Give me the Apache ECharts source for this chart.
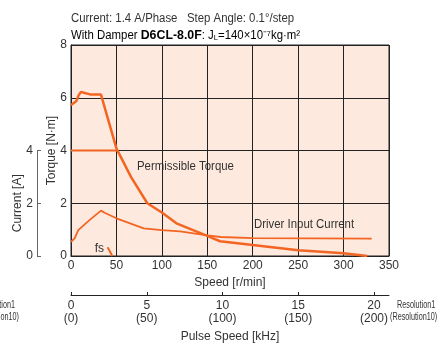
<!DOCTYPE html>
<html><head><meta charset="utf-8">
<script src="https://cdn.jsdelivr.net/npm/echarts@6/dist/echarts.min.js"></script>
<style>html,body{margin:0;padding:0;background:#fff}#c{width:444px;height:344px}#e{position:absolute;left:0;top:0;font:9px monospace;color:red;white-space:pre-wrap;width:444px}</style>
</head><body><div id="c"></div><div id="e"></div>
<script>
// ---- data ----
const speedTicks = [0, 50, 100, 150, 200, 250, 300, 350];
const torqueTicks = [0, 2, 4, 6, 8];
const currentTicks = [0, 2, 4];
const pulseTicks = [0, 5, 10, 15, 20];           // kHz (Resolution1)
// pull-out torque [speed r/min, torque N·m]
const torqueSpeed = [0, 6, 8, 8.5, 11, 22, 33, 50, 66, 84, 100, 116, 150, 164, 200, 250, 300, 326];
const torqueVal   = [5.72, 5.88, 5.9, 6.1, 6.22, 6.12, 6.12, 4.08, 3.0, 2.0, 1.65, 1.24, 0.76, 0.56, 0.42, 0.22, 0.1, 0];
// permissible torque
const permSpeed = [0, 51];
const permVal   = [4, 4];
// driver input current [A]
const currSpeed = [0, 4, 8, 20, 33, 37, 50, 80, 100, 120, 150, 165, 200, 331];
const currVal   = [0.54, 0.67, 0.98, 1.35, 1.72, 1.64, 1.43, 1.05, 0.98, 0.93, 0.78, 0.72, 0.68, 0.66];
// fs
const fsSpeed = [40.3, 45.5];
const fsVal   = [0.33, 0];

const zip = (a, b) => a.map((v, i) => [v, b[i]]);
const FONT = "'Liberation Sans',sans-serif";
const TXT = '#333';
const OR = '#f26522';
const txt = (x, y, text, size, align, sx) => ({type: 'text', x: x, y: y, scaleX: sx || 1,
  style: {text: text, font: size + 'px ' + FONT, fill: TXT, textAlign: align || 'left', textVerticalAlign: 'middle'}});

try {
const chart = echarts.init(document.getElementById('c'), null, {renderer: 'canvas'});
chart.setOption({
  animation: false,
  textStyle: {fontFamily: FONT, color: TXT},
  grid: [
    {left: 71, top: 45, width: 318, height: 211, show: true, backgroundColor: '#fde9de', borderColor: '#222', borderWidth: 1},
    {left: 37, top: 150.5, width: 10, height: 105.5, show: false},
    {left: 71, top: 286, width: 318, height: 10, show: false},
    {left: 71, top: 286, width: 303, height: 10, show: false}
  ],
  xAxis: [
    {gridIndex: 0, type: 'value', min: 0, max: 350, interval: 50,
     axisLine: {show: true, lineStyle: {color: '#222'}}, axisTick: {show: false},
     splitLine: {show: true, lineStyle: {color: '#222', width: 1}},
     axisLabel: {fontSize: 12, color: TXT, margin: 4, fontFamily: FONT},
     name: 'Speed [r/min]', nameLocation: 'middle', nameGap: 21, nameMoveOverlap: false,
     nameTextStyle: {fontSize: 12, color: TXT, fontFamily: FONT}},
    {gridIndex: 1, type: 'value', min: 0, max: 1, show: false},
    {gridIndex: 2, type: 'value', min: 0, max: 21, position: 'bottom',
     axisLine: {show: true, lineStyle: {color: '#222'}},
     axisTick: {show: false}, axisLabel: {show: false}, splitLine: {show: false},
     name: 'Pulse Speed [kHz]', nameLocation: 'middle', nameGap: 36, nameMoveOverlap: false,
     nameTextStyle: {fontSize: 12, color: TXT, fontFamily: FONT}},
    {gridIndex: 3, type: 'value', min: 0, max: 20, interval: 5, position: 'bottom',
     axisLine: {show: false},
     axisTick: {show: true, inside: true, length: 4, lineStyle: {color: '#222'}},
     splitLine: {show: false},
     axisLabel: {fontSize: 12, color: TXT, margin: 3, fontFamily: FONT, lineHeight: 13,
       formatter: v => v + '\n(' + (v * 10) + ')'}}
  ],
  yAxis: [
    {gridIndex: 0, type: 'value', min: 0, max: 8, interval: 2,
     axisLine: {show: true, lineStyle: {color: '#222'}}, axisTick: {show: false},
     splitLine: {show: true, lineStyle: {color: '#222', width: 1}},
     axisLabel: {fontSize: 12, color: TXT, margin: 4, fontFamily: FONT},
     name: 'Torque [N·m]', nameLocation: 'middle', nameGap: 13, nameRotate: 90, nameMoveOverlap: false,
     nameTextStyle: {fontSize: 12, color: TXT, fontFamily: FONT}},
    {gridIndex: 1, type: 'value', min: 0, max: 4, interval: 2,
     axisLine: {show: true, lineStyle: {color: '#666'}},
     axisTick: {show: true, inside: true, length: 4, lineStyle: {color: '#666'}},
     splitLine: {show: false},
     axisLabel: {fontSize: 12, color: TXT, margin: 4, fontFamily: FONT},
     name: 'Current [A]', nameLocation: 'middle', nameGap: 13, nameRotate: 90, nameMoveOverlap: false,
     nameTextStyle: {fontSize: 12, color: TXT, fontFamily: FONT}},
    {gridIndex: 2, type: 'value', min: 0, max: 1, show: false},
    {gridIndex: 3, type: 'value', min: 0, max: 1, show: false}
  ],
  series: [
    {type: 'line', xAxisIndex: 0, yAxisIndex: 0, data: zip(torqueSpeed, torqueVal), symbol: 'none',
     lineStyle: {color: OR, width: 2.5}},
    {type: 'line', xAxisIndex: 0, yAxisIndex: 0, data: zip(permSpeed, permVal), symbol: 'none',
     lineStyle: {color: OR, width: 2}},
    {type: 'line', xAxisIndex: 0, yAxisIndex: 0, data: zip(currSpeed, currVal), symbol: 'none',
     lineStyle: {color: OR, width: 1.8}},
    {type: 'line', xAxisIndex: 0, yAxisIndex: 0, data: zip(fsSpeed, fsVal), symbol: 'none',
     lineStyle: {color: OR, width: 2}}
  ],
  graphic: [
    txt(71, 19, 'Current: 1.4 A/Phase   Step Angle: 0.1°/step', 12, 'left', 0.95),
    {type: 'text', x: 71, y: 34, scaleX: 0.95, style: {
      text: '{n|With Damper }{b|D6CL-8.0F}{n|: J}{s|L}{n|=140×10⁻⁷kg·m²}', textVerticalAlign: 'middle',
      rich: {
        n: {fontFamily: FONT, fontSize: 12, color: TXT, lineHeight: 15, verticalAlign: 'bottom'},
        b: {fontFamily: FONT, fontWeight: 'bold', fontSize: 13, color: '#222', lineHeight: 15, verticalAlign: 'bottom'},
        s: {fontFamily: FONT, fontSize: 8, color: TXT, lineHeight: 15, verticalAlign: 'bottom'}
      }}},
    txt(137, 167, 'Permissible Torque', 12, 'left', 0.95),
    txt(254, 225, 'Driver Input Current', 12, 'left', 0.95),
    txt(104, 249, 'fs', 12, 'right'),
    txt(397, 305, 'Resolution1', 11, 'left', 0.66),
    txt(390, 317, '(Resolution10)', 11, 'left', 0.66),
    txt(15, 305, 'Resolution1', 11, 'right', 0.66),
    txt(19, 317, '(Resolution10)', 11, 'right', 0.66)
  ]
});
} catch (e) { document.getElementById('e').textContent = String(e && e.stack || e).slice(0, 900); }
window.addEventListener('error', ev => { document.getElementById('e').textContent += '\n' + (ev.error && ev.error.stack || ev.message).slice(0, 900); });
</script></body></html>
